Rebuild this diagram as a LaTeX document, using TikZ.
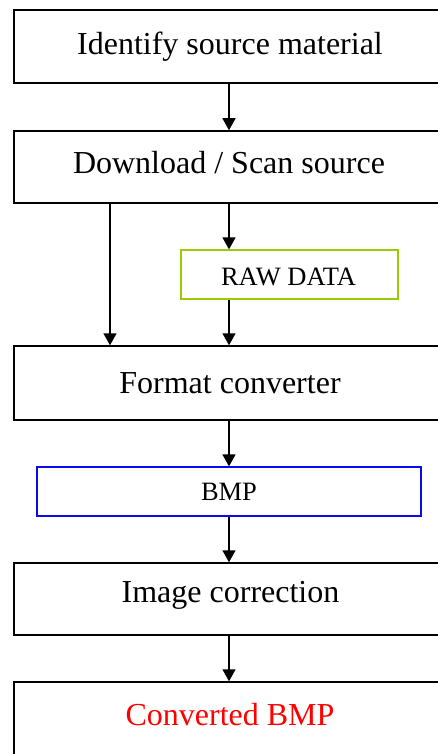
\documentclass[tikz,border=0pt]{standalone}
\usepackage{fontspec}
\setmainfont{Liberation Serif}
\usetikzlibrary{arrows.meta}
\definecolor{rawgreen}{RGB}{153,204,0}
\definecolor{bmpblue}{RGB}{10,10,240}
\begin{document}
\begin{tikzpicture}[x=1pt,y=-1pt,
  box/.style={draw,line width=1.5pt,rectangle,inner sep=0pt},
  arr/.style={line width=1.5pt,-{Triangle[width=13pt,length=12pt]}},
  big/.style={font=\fontsize{32}{32}\selectfont},
  small/.style={font=\fontsize{26.5}{26.5}\selectfont}]
\useasboundingbox (0,0) rectangle (438,754);
\clip (0,0) rectangle (438,754);
\fill[white] (0,0) rectangle (438,754);
\node[box,big,minimum width=432,minimum height=73] (b1) at (230,46.5) {Identify source material};
\node[box,minimum width=432,minimum height=72] (b2) at (230,167) {};
\node[big] (t2) at (229,163) {Download / Scan source};
\node[box,draw=rawgreen,line width=1.3pt,minimum width=217,minimum height=49] (raw) at (289.5,274.5) {};
\node[small] (traw) at (288.5,277) {RAW DATA};
\node[box,big,minimum width=432,minimum height=74] (b3) at (230,383) {Format converter};
\node[box,draw=bmpblue,line width=1.3pt,small,minimum width=384,minimum height=49] (bmp) at (229,491.5) {BMP};
\node[box,minimum width=432,minimum height=72] (b4) at (230,599) {};
\node[big] (t4) at (230.5,595) {Image correction};
\node[box,minimum width=432,minimum height=88] (b5) at (230,726) {};
\node[big,text=red] (t5) at (230,715) {Converted BMP};
\draw[arr] ([xshift=-1pt]b1.south) -- ([xshift=-1pt]b2.north);
\draw[arr] ([xshift=-120pt]b2.south) -- ([xshift=-120pt]b3.north);
\draw[arr] ([xshift=-1pt]b2.south) -- ([xshift=-1pt]b2.south |- raw.north);
\draw[arr] ([xshift=-1pt]b2.south |- raw.south) -- ([xshift=-1pt]b3.north);
\draw[arr] ([xshift=-1pt]b3.south) -- ([xshift=-1pt]b3.south |- bmp.north);
\draw[arr] ([xshift=-1pt]b3.south |- bmp.south) -- ([xshift=-1pt]b4.north);
\draw[arr] ([xshift=-1pt]b4.south) -- ([xshift=-1pt]b5.north);
\end{tikzpicture}
\end{document}
